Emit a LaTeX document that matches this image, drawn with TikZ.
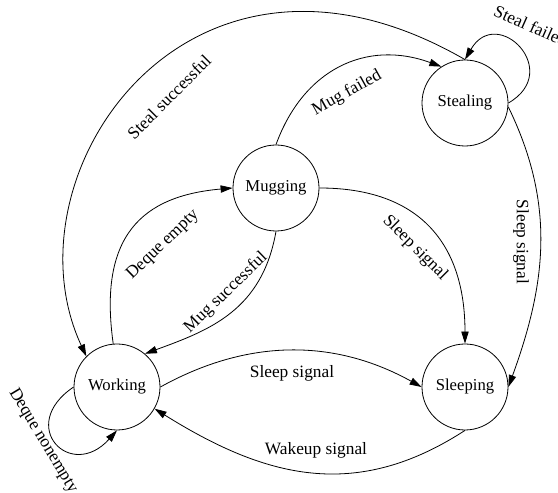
\documentclass[tikz,border=0pt]{standalone}
\usepackage{fontspec}
\setmainfont{Liberation Serif}
\usetikzlibrary{arrows.meta}

\begin{document}
\begin{tikzpicture}[x=0.75pt,y=0.75pt,
    font=\fontsize{12.5}{15}\selectfont,
    >={Triangle[length=9pt,width=5.5pt]}]

        \useasboundingbox (0,0) rectangle (558,493);

        \begin{scope}[every node/.style={circle,draw,line width=0.6pt,minimum size=64.5pt,inner sep=0pt}]
          \node (steal) at (465,390) {Stealing};
          \node (mug)   at (276,305) {Mugging};
          \node (work)  at (117,106) {Working};
          \node (sleep) at (465,106) {Sleeping};
        \end{scope}

        \begin{scope}[every edge/.style={draw,->,line width=0.6pt}]
          \path (steal.90)  edge[out=150,in=115,out distance=240pt,in distance=150pt] (work.135);
          \path (mug.90)    edge[out=70,in=160,out distance=60pt,in distance=60pt]   (steal.123);
          \path (steal.0)   edge[out=30,in=60,out distance=48pt,in distance=48pt]    (steal.90);
          \path (steal.-5)  edge[out=-64,in=70,out distance=82pt,in distance=82pt]   (sleep.0);
          \path (mug.0)     edge[out=0,in=90,out distance=75pt,in distance=75pt]     (sleep.90);
          \path (work.95)   edge[out=98,in=185,out distance=82pt,in distance=68pt]   (mug.180);
          \path (mug.270)   edge[out=260,in=20,out distance=60pt,in distance=52pt]   (work.50);
          \path (work.0)    edge[out=29,in=151,out distance=75pt,in distance=75pt]   (sleep.180);
          \path (sleep.270) edge[out=213,in=328,out distance=98pt,in distance=98pt]  (work.-30);
          \path (work.180)  edge[out=214,in=228,out distance=52pt,in distance=52pt]  (work.270);
        \end{scope}

        \begin{scope}[every node/.style={inner sep=0pt,font=\fontsize{13}{15}\selectfont}]
          \node[rotate=45]  (stealok)  at (169,396) {Steal successful};
          \node[rotate=29]  (mugfail)  at (347,400) {Mug failed};
          \node[rotate=-24] (stealno)  at (531,467) {Steal failed};
          \node[rotate=-90] (sleepst)  at (521,251) {Sleep signal};
          \node[rotate=-45] (sleepmu)  at (415,245) {Sleep signal};
          \node[rotate=44]  (dqempty)  at (163,248) {Deque empty};
          \node[rotate=44]  (mugok)    at (226,200) {Mug successful};
          \node             (sleepwo)  at (292,120) {Sleep signal};
          \node             (wakeup)   at (316,43)  {Wakeup signal};
          \node[rotate=-59] (dqfull)   at (43,52)   {Deque nonempty};
        \end{scope}

      \end{tikzpicture}
\end{document}
